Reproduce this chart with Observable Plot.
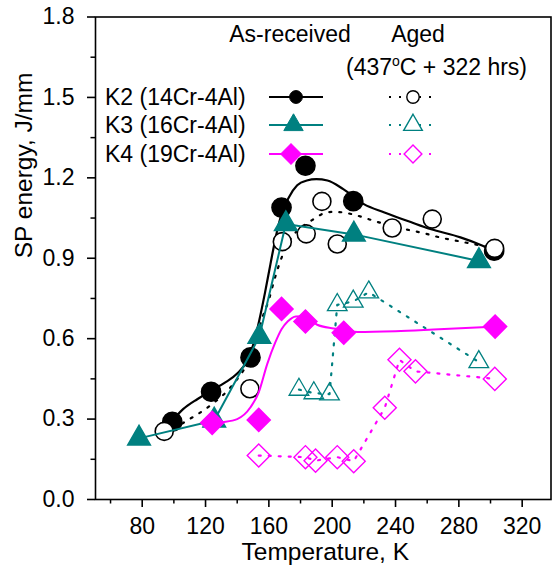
<!DOCTYPE html>
<html><head><meta charset="utf-8">
<script src="https://cdn.jsdelivr.net/npm/d3@7"></script>
<script src="https://cdn.jsdelivr.net/npm/@observablehq/plot@0.6"></script>
<style>
body{margin:0;background:#fff}
svg{font-family: Arial, "Liberation Sans", sans-serif;}
</style>
</head><body><div id="chart"></div>
<script>
// ---- data ----
const xMajor = [80, 120, 160, 200, 240, 280, 320];
const xMinor = [60, 100, 140, 180, 220, 260, 300];
const yMajor = [0, 0.3, 0.6, 0.9, 1.2, 1.5, 1.8];
const yMinor = [0.15, 0.45, 0.75, 1.05, 1.35, 1.65];

// K2 (14Cr-4Al) as-received: filled circles
const k2T = [99, 123.5, 148.4, 168, 183.1, 213.3, 302.3];
const k2V = [0.29, 0.402, 0.53, 1.089, 1.245, 1.113, 0.928];
// K2 as-received fitted curve
const k2FitT = [97, 106, 115, 123, 132, 140, 146, 150, 154, 157.5, 161, 164.2, 168, 172.6, 177.9, 184, 190, 197, 207, 220, 233, 250, 262, 281, 295, 302];
const k2FitV = [0.28, 0.338, 0.375, 0.404, 0.435, 0.47, 0.515, 0.575, 0.67, 0.77, 0.878, 0.975, 1.065, 1.127, 1.172, 1.19, 1.195, 1.19, 1.158, 1.102, 1.071, 1.034, 1.009, 0.978, 0.947, 0.928];
// K2 aged: open circles
const k2aT = [93.9, 148, 168.5, 183.6, 193.5, 203.2, 237.9, 263.2, 302.6];
const k2aV = [0.254, 0.413, 0.962, 0.991, 1.112, 0.953, 1.013, 1.046, 0.937];
// K2 aged fitted curve (dotted)
const k2aFitT = [94, 102, 109, 116, 125, 135, 141, 147, 152, 156, 160, 163.5, 167, 171, 176, 182, 188, 195, 201, 208, 214, 220, 226, 235, 245, 258, 270, 277, 290, 303];
const k2aFitV = [0.25, 0.272, 0.297, 0.322, 0.36, 0.413, 0.457, 0.515, 0.6, 0.68, 0.745, 0.82, 0.885, 0.945, 0.99, 1.022, 1.045, 1.068, 1.073, 1.07, 1.062, 1.052, 1.04, 1.025, 1.01, 0.993, 0.975, 0.967, 0.952, 0.936];

// K3 (16Cr-4Al) as-received: filled triangles (joined)
const k3T = [78, 125.5, 154, 170.7, 213.7, 292.7];
const k3V = [0.228, 0.295, 0.607, 1.028, 0.989, 0.89];
// K3 aged: open triangles (joined, dotted)
const k3aT = [179, 188.4, 198.3, 203.2, 213.3, 223.1, 292.6];
const k3aV = [0.41, 0.397, 0.393, 0.726, 0.739, 0.773, 0.513];

// K4 (19Cr-4Al) as-received: filled diamonds
const k4T = [124.2, 153.6, 168, 183.1, 207.3, 302.9];
const k4V = [0.286, 0.297, 0.711, 0.664, 0.622, 0.645];
// K4 as-received fitted curve
const k4FitT = [124, 131, 140, 148.4, 153.6, 159, 164, 168, 172, 177, 182, 190.5, 201, 216, 240, 264, 303];
const k4FitV = [0.285, 0.289, 0.3, 0.344, 0.4, 0.506, 0.585, 0.635, 0.665, 0.683, 0.684, 0.652, 0.638, 0.625, 0.628, 0.634, 0.645];
// K4 aged: open diamonds (joined, dotted)
const k4aT = [153.6, 183.1, 189.5, 203.2, 213.6, 233.2, 242.5, 252.6, 302.7];
const k4aV = [0.164, 0.158, 0.145, 0.158, 0.143, 0.342, 0.521, 0.478, 0.45];

const seriesNames = ["K2 (14Cr-4Al)", "K3 (16Cr-4Al)", "K4 (19Cr-4Al)"];
const headAR = "As-received";
const headAged = "Aged";
const agedNoteA = "(437";
const agedNoteDeg = "o";
const agedNoteB = "C + 322 hrs)";
const xTitle = "Temperature, K";
const yTitle = "SP energy, J/mm";

// ---- styling ----
const BLACK = "#000000", TEAL = "#008080", MAGENTA = "#ff00ff";
const colors = [BLACK, TEAL, MAGENTA];
const pairs = (T, V) => T.map((t, i) => ({t, v: V[i]}));
const dotted = {strokeDasharray: "2 8", strokeWidth: 2.2};

function legendMark() {
  const g = d3.create("svg:g").attr("font-family", "Arial, 'Liberation Sans', sans-serif").attr("font-size", 23).attr("fill", "black").attr("text-anchor", "start");
  g.append("text").attr("x", 290).attr("y", 42).attr("text-anchor", "middle").text(headAR);
  g.append("text").attr("x", 418).attr("y", 42).attr("text-anchor", "middle").text(headAged);
  const note = g.append("text").attr("x", 436.5).attr("y", 75).attr("text-anchor", "middle");
  note.append("tspan").text(agedNoteA);
  note.append("tspan").attr("font-size", 14).attr("dy", -9).text(agedNoteDeg);
  note.append("tspan").attr("dy", 9).text(agedNoteB);
  const rowsY = [97, 125, 154];
  const arX = [296, 293.5, 291];
  const syms = [d3.symbolCircle, d3.symbolTriangle, d3.symbolSquare];
  const rAR = [6.4, 7.2, 8.2];
  const rAged = [6.2, 6.9, 7.1];
  seriesNames.forEach((name, i) => {
    const y = rowsY[i], c = colors[i];
    g.append("text").attr("x", 105).attr("y", y + 8.2).attr("text-anchor", "start").text(name);
    g.append("line").attr("x1", 269).attr("x2", 323).attr("y1", y).attr("y2", y).attr("stroke", c).attr("stroke-width", 2);
    g.append("line").attr("x1", 389).attr("x2", 438).attr("y1", y).attr("y2", y).attr("stroke", c).attr("stroke-width", 2.2).attr("stroke-dasharray", "2 8");
    const rot = i === 2 ? " rotate(45)" : "";
    g.append("path").attr("d", d3.symbol(syms[i], Math.PI * rAR[i] * rAR[i])()).attr("transform", `translate(${arX[i]},${y})${rot}`).attr("fill", c).attr("stroke", c);
    g.append("path").attr("d", d3.symbol(syms[i], Math.PI * rAged[i] * rAged[i])()).attr("transform", `translate(413,${y})${rot}`).attr("fill", "white").attr("stroke", c).attr("stroke-width", 1.4);
  });
  return g.node();
}

const plot = Plot.plot({
  width: 552,
  height: 576,
  marginLeft: 95,
  marginRight: 1.5,
  marginTop: 16.5,
  marginBottom: 77,
  x: {domain: [50.5, 338.2]},
  y: {domain: [0, 1.8]},
  style: {fontFamily: "Arial, 'Liberation Sans', sans-serif", fontSize: "23px", background: "white", color: "black"},
  marks: [
    Plot.axisX(xMinor, {tickSize: 4.5, tickFormat: () => "", label: null, strokeWidth: 1.5}),
    Plot.axisX(xMajor, {tickSize: 8, tickPadding: 10, tickFormat: d => String(d), fontSize: 23, label: null, strokeWidth: 1.6}),
    Plot.axisY(yMinor, {tickSize: 4.5, tickFormat: () => "", label: null, strokeWidth: 1.5}),
    Plot.axisY(yMajor, {tickSize: 8, tickPadding: 13, tickFormat: d3.format(".1f"), fontSize: 23, label: null, strokeWidth: 1.6}),
    Plot.frame({stroke: "black", strokeWidth: 1.6}),
    Plot.text([xTitle], {text: d => d, frameAnchor: "bottom", dy: 60, dx: 2, fontSize: 24.5}),
    Plot.text([yTitle], {text: d => d, frameAnchor: "left", rotate: -90, dx: -71, fontSize: 24.5}),

    // K2
    Plot.line(pairs(k2aFitT, k2aFitV), {x: "t", y: "v", stroke: BLACK, curve: "monotone-x", ...dotted}),
    Plot.line(pairs(k2FitT, k2FitV), {x: "t", y: "v", stroke: BLACK, strokeWidth: 2.2, curve: "monotone-x"}),
    Plot.dot(pairs(k2T, k2V), {x: "t", y: "v", r: 9.6, fill: BLACK, stroke: BLACK}),
    Plot.dot(pairs(k2aT, k2aV), {x: "t", y: "v", r: 9, fill: "white", stroke: BLACK, strokeWidth: 1.6}),

    // K3
    Plot.line(pairs(k3aT, k3aV), {x: "t", y: "v", stroke: TEAL, ...dotted}),
    Plot.line(pairs(k3T, k3V), {x: "t", y: "v", stroke: TEAL, strokeWidth: 2}),
    Plot.dot(pairs(k3T, k3V), {x: "t", y: "v", symbol: "triangle", r: 8.4, fill: TEAL, stroke: TEAL}),
    Plot.dot(pairs(k3aT, k3aV), {x: "t", y: "v", symbol: "triangle", r: 7.3, fill: "none", stroke: TEAL, strokeWidth: 1.3}),

    // K4
    Plot.line(pairs(k4aT, k4aV), {x: "t", y: "v", stroke: MAGENTA, ...dotted}),
    Plot.line(pairs(k4FitT, k4FitV), {x: "t", y: "v", stroke: MAGENTA, strokeWidth: 2, curve: "monotone-x"}),
    Plot.dot(pairs(k4T, k4V), {x: "t", y: "v", symbol: "square", rotate: 45, r: 9.2, fill: MAGENTA, stroke: MAGENTA}),
    Plot.dot(pairs(k4aT, k4aV), {x: "t", y: "v", symbol: "square", rotate: 45, r: 9.2, fill: "none", stroke: MAGENTA, strokeWidth: 1.4}),

    legendMark
  ]
});
document.getElementById("chart").appendChild(plot);
</script>
</body></html>
